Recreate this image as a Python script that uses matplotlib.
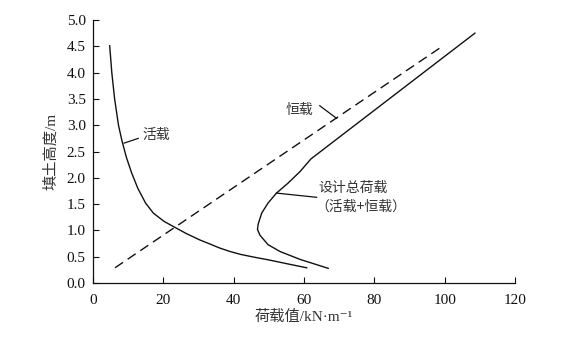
"""
Load vs. fill height: live load, dead load and design total load.
"""

import matplotlib
matplotlib.use("Agg")
import matplotlib.pyplot as plt

plt.rcParams["font.family"] = ["Liberation Serif", "Noto Sans CJK SC", "DejaVu Sans"]
plt.rcParams["font.size"] = 10

# Live load (活载)
live_x = [4.8, 5.4, 6.2, 7.3, 8.3, 9.5, 11.0, 12.8, 15.0, 17.2, 20.3, 23.3,
          26.6, 30.4, 33.0, 36.1, 39.0, 42.0, 46.0, 50.0, 55.0, 60.8]
live_y = [4.51, 4.00, 3.50, 3.00, 2.70, 2.40, 2.10, 1.80, 1.52, 1.33, 1.17, 1.06,
          0.94, 0.82, 0.75, 0.665, 0.60, 0.545, 0.49, 0.44, 0.37, 0.29]

# Dead load (恒载) - straight line
dead_x = [6.3, 98.9]
dead_y = [0.29, 4.48]

# Design total load (设计总荷载)
total_x = [66.9, 58.9, 53.2, 49.8, 47.5, 46.8, 47.0, 48.0, 49.8, 52.2, 55.5,
           58.9, 62.0, 108.6]
total_y = [0.28, 0.45, 0.60, 0.73, 0.91, 1.02, 1.12, 1.33, 1.52, 1.71, 1.90,
           2.12, 2.36, 4.75]

x_ticks = [0, 20, 40, 60, 80, 100, 120]
y_ticks = [0.0, 0.5, 1.0, 1.5, 2.0, 2.5, 3.0, 3.5, 4.0, 4.5, 5.0]

fig = plt.figure(figsize=(5.8, 3.39), dpi=100)
ax = fig.add_axes([0.160, 0.165, 0.728, 0.776])

ink = "#111111"
ax.plot(live_x, live_y, color=ink, lw=1.0, solid_joinstyle="round")
ax.plot(dead_x, dead_y, color=ink, lw=1.0, dashes=(7, 4))
ax.plot(total_x, total_y, color=ink, lw=1.0, solid_joinstyle="round")

# labels with leader lines
ax.plot([8.9, 12.9], [2.66, 2.75], color=ink, lw=0.9)
ax.text(14.0, 2.81, "活载", ha="left", va="center", fontsize=10,
        family=["Noto Sans CJK SC"], color="#333333")

ax.plot([64.5, 69.3], [3.37, 3.13], color=ink, lw=0.9)
ax.text(58.6, 3.30, "恒载", ha="center", va="center", fontsize=10,
        family=["Noto Sans CJK SC"], color="#333333")

ax.plot([52.2, 63.6], [1.71, 1.63], color=ink, lw=0.9)
ax.text(64.2, 1.80, "设计总荷载", ha="left", va="center", fontsize=10,
        family=["Noto Sans CJK SC"], color="#333333")
ax.text(63.2, 1.45, "（活载+恒载）", ha="left", va="center", fontsize=10,
        family=["Noto Sans CJK SC"], color="#333333")

ax.set_xlim(0, 120)
ax.set_ylim(0, 5.0)
ax.set_xticks(x_ticks)
ax.set_yticks(y_ticks)
ax.set_yticklabels([f"{v:.1f}" for v in y_ticks])
ax.tick_params(direction="in", length=4, width=0.8, labelsize=11, colors=ink)
ax.tick_params(axis="x", pad=8)
ax.tick_params(axis="y", pad=5)

for side in ["top", "right"]:
    ax.spines[side].set_visible(False)
for side in ["left", "bottom"]:
    ax.spines[side].set_linewidth(0.9)
    ax.spines[side].set_color(ink)

ax.set_xlabel("荷载值/kN·m⁻¹", fontsize=11, color="#333333", labelpad=2)
ax.set_ylabel("填土高度/m", fontsize=11, color="#333333", labelpad=6)

fig.savefig("out.png", dpi=100)
